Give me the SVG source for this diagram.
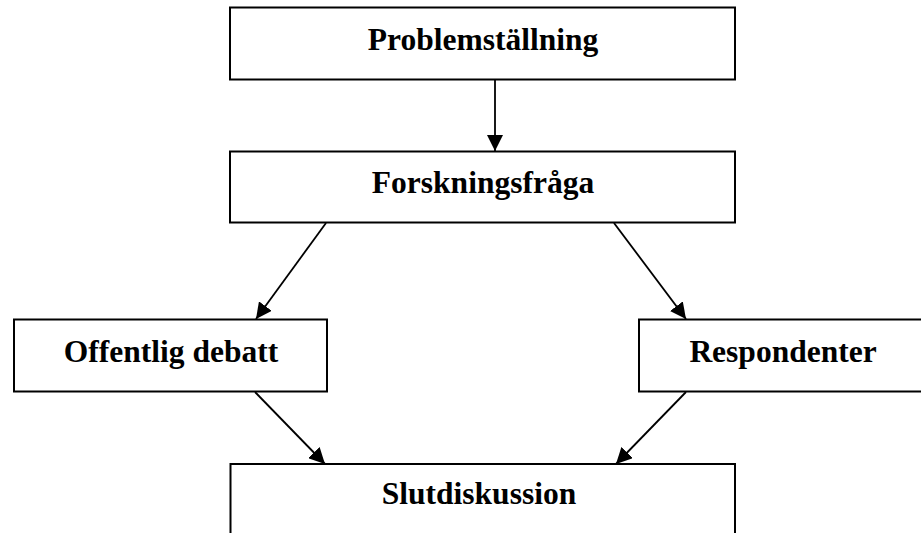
<svg xmlns="http://www.w3.org/2000/svg" width="921" height="533" viewBox="0 0 921 533">
<style>
.box{fill:#fff;stroke:#000;stroke-width:2}
.lbl{font-family:"Liberation Serif","Times New Roman",serif;font-weight:bold;font-size:31.5px;text-anchor:middle;fill:#000}
.edge{stroke:#000;stroke-width:1.8;fill:none;marker-end:url(#ah)}
</style>
<defs>
<marker id="ah" markerUnits="userSpaceOnUse" markerWidth="17" markerHeight="16" refX="16" refY="8" orient="auto" viewBox="0 0 17 16">
<path d="M0,0 L16,8 L0,16 Z" fill="#000"/>
</marker>
</defs>
<rect width="921" height="533" fill="#fff"/>
<g id="connectors">
<line class="edge" x1="495" y1="80" x2="495" y2="151"/>
<line class="edge" x1="326" y1="223" x2="256" y2="319"/>
<line class="edge" x1="614" y1="223" x2="686" y2="319"/>
<line class="edge" x1="255" y1="392" x2="325" y2="464"/>
<line class="edge" x1="686" y1="392" x2="616" y2="464"/>
</g>
<g id="problemstallning">
<rect class="box" x="230" y="7.5" width="505" height="72"/>
<text class="lbl" x="483" y="50">Problemställning</text>
</g>
<g id="forskningsfraga">
<rect class="box" x="230" y="151.5" width="505" height="71"/>
<text class="lbl" x="483" y="193">Forskningsfråga</text>
</g>
<g id="offentlig-debatt">
<rect class="box" x="14" y="319.5" width="313" height="72"/>
<text class="lbl" x="171" y="362">Offentlig debatt</text>
</g>
<g id="respondenter">
<rect class="box" x="639" y="319.5" width="288" height="72"/>
<text class="lbl" x="783" y="362">Respondenter</text>
</g>
<g id="slutdiskussion">
<rect class="box" x="230.5" y="464" width="504.5" height="80"/>
<text class="lbl" x="479" y="504">Slutdiskussion</text>
</g>
</svg>
